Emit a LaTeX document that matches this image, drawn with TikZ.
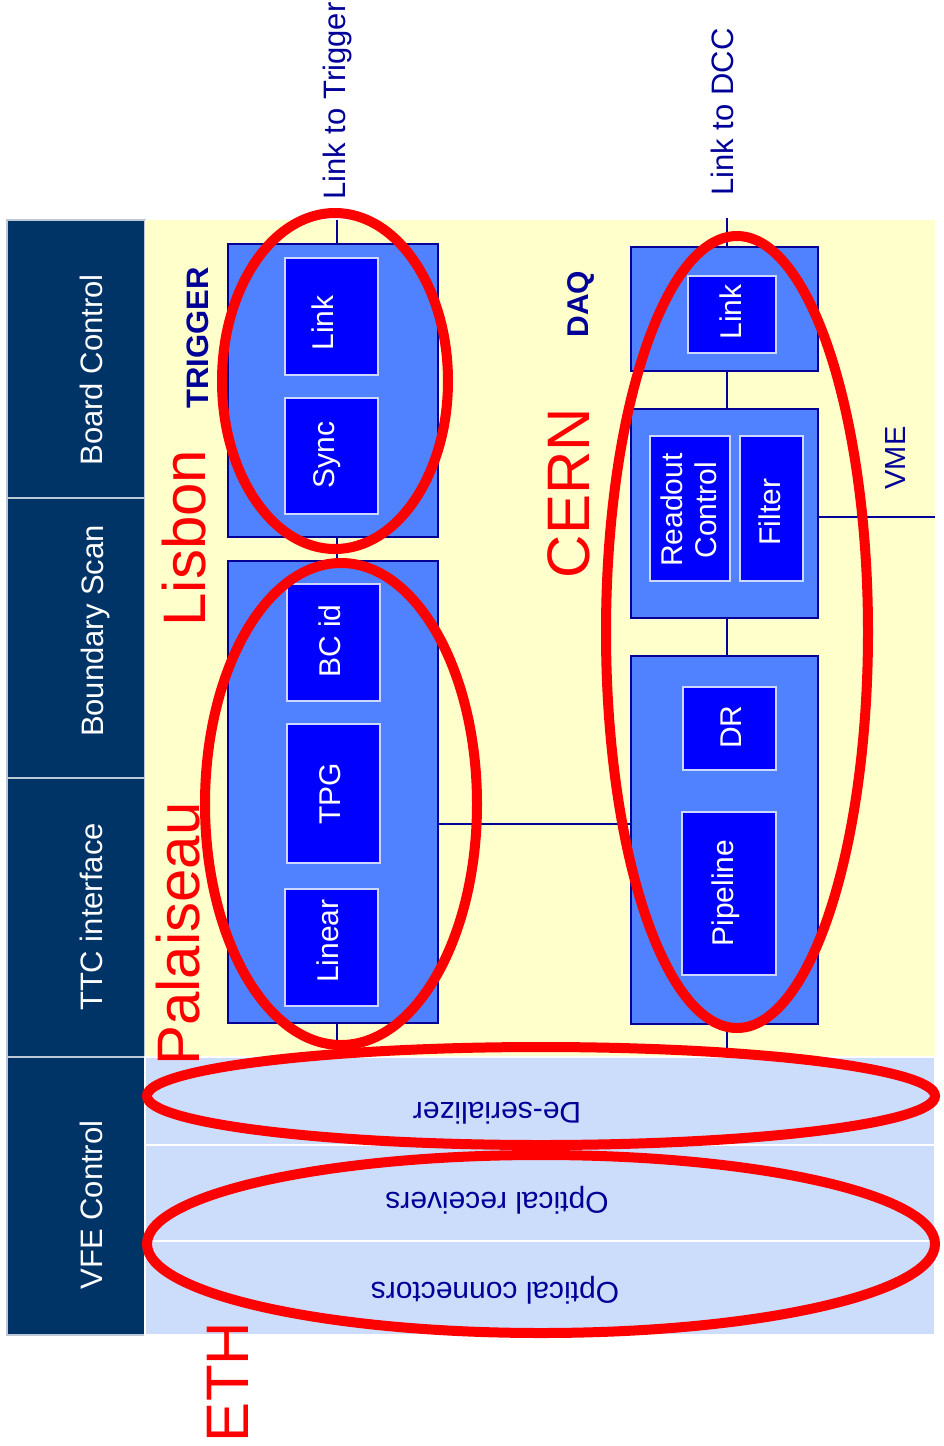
\documentclass[tikz,border=0pt]{standalone}
\usepackage{fontspec}
\setmainfont{Liberation Sans}
\usetikzlibrary{calc}
\definecolor{navy}{RGB}{0,51,102}
\definecolor{rimgray}{RGB}{190,200,215}
\definecolor{paleyellow}{RGB}{255,255,204}
\definecolor{paleblue}{RGB}{204,221,252}
\definecolor{midblue}{RGB}{80,130,255}
\definecolor{pureblue}{RGB}{0,0,255}
\definecolor{inkblue}{RGB}{0,0,153}
\definecolor{rimblue}{RGB}{205,215,255}
\definecolor{siteRed}{RGB}{255,0,0}

\begin{document}
\begin{tikzpicture}[x=1pt,y=-1pt,
  panel/.style={fill=navy, draw=rimgray, line width=1.5pt, inner sep=0pt,
                minimum width=138pt},
  panellbl/.style={text=white, font=\fontsize{31}{37}\selectfont,
                   rotate=90, anchor=base, inner sep=0pt},
  row/.style={fill=paleblue, draw=white, line width=1.5pt, inner sep=0pt,
              minimum width=790pt},
  rowlbl/.style={text=inkblue, font=\fontsize{30}{36}\selectfont,
                 rotate=180, anchor=base, inner sep=0pt},
  unit/.style={fill=midblue, draw=inkblue, line width=1.2pt, inner sep=0pt},
  blk/.style={fill=pureblue, draw=rimblue, line width=1.2pt, inner sep=0pt},
  blklbl/.style={text=white, font=\fontsize{30}{34}\selectfont,
                 rotate=90, anchor=base, inner sep=0pt},
  inklbl/.style={text=inkblue, rotate=90, anchor=base, inner sep=0pt},
  sitelbl/.style={text=siteRed, font=\fontsize{60}{70}\selectfont,
                  rotate=90, anchor=base, inner sep=0pt},
  wire/.style={draw=inkblue, line width=1.6pt},
  ring/.style={draw=siteRed, line width=10pt}
]
\useasboundingbox (0,0) rectangle (944,1446);

% control column
\node[panel, minimum height=278pt] (bc)  at (76,359)    {};
\node[panel, minimum height=280pt] (bs)  at (76,638)    {};
\node[panel, minimum height=279pt] (ttc) at (76,917.5)  {};
\node[panel, minimum height=278pt] (vfe) at (76,1196)   {};
\node[panellbl] (bc-t)  at (102,370)  {Board Control};
\node[panellbl] (bs-t)  at (103,631)  {Boundary Scan};
\node[panellbl] (ttc-t) at (102,917)  {TTC interface};
\node[panellbl] (vfe-t) at (102,1205) {VFE Control};

% board area
\fill[paleyellow] (145,220) rectangle (935,1057);
\node[row, minimum height=88pt] (deser) at (540,1101) {};
\node[row, minimum height=96pt] (orx)   at (540,1193) {};
\node[row, minimum height=94pt] (ocon)  at (540,1288) {};
\node[rowlbl] (deser-t) at (497,1102) {De-serializer};
\node[rowlbl] (orx-t)   at (497,1192) {Optical receivers};
\node[rowlbl] (ocon-t)  at (495,1282) {Optical connectors};

% trigger chain
\node[unit, minimum width=210pt, minimum height=293pt] (trig) at (333,390.5) {};
\node[unit, minimum width=210pt, minimum height=462pt] (pal)  at (333,792)   {};
\node[blk, minimum width=93pt, minimum height=117pt] (tlink)  at (331.5,316.5) {};
\node[blk, minimum width=93pt, minimum height=116pt] (sync)   at (331.5,456)   {};
\node[blk, minimum width=93pt, minimum height=117pt] (bcid)   at (333.5,642.5) {};
\node[blk, minimum width=93pt, minimum height=139pt] (tpg)    at (333.5,793.5) {};
\node[blk, minimum width=93pt, minimum height=117pt] (linear) at (331.5,947.5) {};
\node[blklbl] (tlink-t)  at (333,323) {Link};
\node[blklbl] (sync-t)   at (334,455) {Sync};
\node[blklbl] (bcid-t)   at (340,641) {BC id};
\node[blklbl] (tpg-t)    at (340,794) {TPG};
\node[blklbl] (linear-t) at (338,941) {Linear};

% readout chain
\node[unit, minimum width=187pt, minimum height=124pt] (dlink) at (724.5,309)   {};
\node[unit, minimum width=187pt, minimum height=209pt] (ro)    at (724.5,513.5) {};
\node[unit, minimum width=187pt, minimum height=368pt] (pipe)  at (724.5,840)   {};
\node[blk, minimum width=88pt, minimum height=77pt]  (dlinkin)  at (732,314.5)   {};
\node[blk, minimum width=80pt, minimum height=145pt] (rctl)     at (690,508.5)   {};
\node[blk, minimum width=63pt, minimum height=145pt] (filter)   at (771.5,508.5) {};
\node[blk, minimum width=93pt, minimum height=83pt]  (dr)       at (729.5,728.5) {};
\node[blk, minimum width=94pt, minimum height=163pt] (pipeline) at (729,893.5)   {};
\node[blklbl] (dlinkin-t) at (741,312) {Link};
\node[text=white, font=\fontsize{30}{34}\selectfont, rotate=90, inner sep=0pt,
      align=center] (rctl-t) at (689,510) {Readout\\Control};
\node[blklbl] (filter-t)   at (780,512) {Filter};
\node[blklbl] (dr-t)       at (741,727) {DR};
\node[blklbl] (pipeline-t) at (733,893) {Pipeline};

% wiring
\coordinate (tx) at (337,0);
\coordinate (dx) at (727,0);
\coordinate (hy) at (0,824);
\coordinate (trigout) at (337,220);
\coordinate (dccout)  at (727,218);
\coordinate (vmeout)  at (935,517);
\draw[wire] (trigout) -- (trig.north -| tx);
\draw[wire] (trig.south -| tx) -- (pal.north -| tx);
\draw[wire] (pal.south -| tx) -- (deser.north -| tx);
\draw[wire] (dccout) -- (dlink.north -| dx);
\draw[wire] (dlink.south -| dx) -- (ro.north -| dx);
\draw[wire] (ro.south -| dx) -- (pipe.north -| dx);
\draw[wire] (pipe.south -| dx) -- (deser.north -| dx);
\draw[wire] (pal.east |- hy) -- (pipe.west |- hy);
\draw[wire] (ro.east |- vmeout) -- (vmeout);

% labels
\node[inklbl, font=\fontsize{31}{37}\selectfont] (trig-l) at (345,101) {Link to Trigger};
\node[inklbl, font=\fontsize{31}{37}\selectfont] (dcc-l)  at (733,112) {Link to DCC};
\node[inklbl, font=\fontsize{31}{37}\selectfont\bfseries] (trigger-l) at (208,338) {TRIGGER};
\node[inklbl, font=\fontsize{30}{36}\selectfont\bfseries] (daq-l) at (588,304) {DAQ};
\node[inklbl, font=\fontsize{29}{35}\selectfont] (vme-l) at (905,458) {VME};

% sites
\node[sitelbl] (lisbon)    at (205,538)  {Lisbon};
\node[sitelbl] (palaiseau) at (199,934)  {Palaiseau};
\node[sitelbl] (cern)      at (589,493)  {CERN};
\node[sitelbl] (eth)       at (248,1382) {ETH};

% responsibility rings
\draw[ring] (335,381)  ellipse [x radius=113pt, y radius=168pt];
\draw[ring] (341,804)  ellipse [x radius=136pt, y radius=241pt];
\draw[ring] (737,632)  ellipse [x radius=131pt, y radius=396pt];
\draw[ring] (541,1096) ellipse [x radius=394pt, y radius=49pt];
\draw[ring] (541,1244) ellipse [x radius=394pt, y radius=89pt];
\end{tikzpicture}
\end{document}
